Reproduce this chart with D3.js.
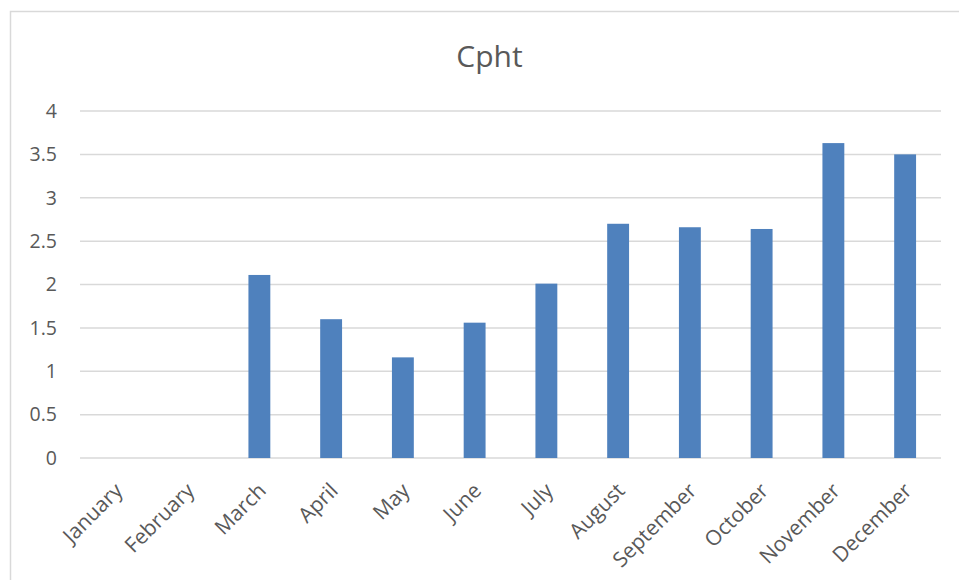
<!DOCTYPE html>
<html>
<head>
<meta charset="utf-8">
<script src="https://cdn.jsdelivr.net/npm/d3@7"></script>
<style>
  html, body { margin: 0; padding: 0; background: #ffffff; }
  svg { display: block; }
</style>
</head>
<body>
<svg id="chart" width="959" height="580"></svg>
<script>
const title = "Cpht";
const months = ["January","February","March","April","May","June","July","August","September","October","November","December"];
const values = [null, null, 2.11, 1.60, 1.16, 1.56, 2.01, 2.70, 2.66, 2.64, 3.63, 3.50];
const yTicks = [0, 0.5, 1, 1.5, 2, 2.5, 3, 3.5, 4];

const W = 959, H = 580;
const margin = { left: 80, right: 18, top: 111, bottom: 122 };
const font = "'Open Sans', sans-serif";
const textColor = "#595959";
const gridColor = "#d9d9d9";
const barColor = "#4f81bd";

const svg = d3.select("#chart");

// outer chart border
svg.append("rect")
  .attr("x", 10.5).attr("y", 11.5)
  .attr("width", W).attr("height", H)
  .attr("fill", "#fff").attr("stroke", gridColor).attr("stroke-width", 1.5);

const x = d3.scaleBand()
  .domain(months)
  .range([margin.left, W - margin.right])
  .paddingInner(0.695).paddingOuter(0.3475);

const y = d3.scaleLinear()
  .domain([0, 4])
  .range([H - margin.bottom, margin.top]);

// gridlines
svg.append("g")
  .selectAll("line")
  .data(yTicks)
  .join("line")
  .attr("x1", margin.left).attr("x2", W - margin.right)
  .attr("y1", d => y(d)).attr("y2", d => y(d))
  .attr("stroke", gridColor).attr("stroke-width", 1.5);

// y axis labels
const yAxis = d3.axisLeft(y).tickValues(yTicks).tickSize(0).tickPadding(0).tickFormat(d3.format("~g"));
const gy = svg.append("g").attr("transform", `translate(${margin.left - 23},0)`).call(yAxis);
gy.select(".domain").remove();
gy.selectAll("text").attr("font-family", font).attr("font-size", 19.5).attr("fill", textColor);

// bars
svg.append("g")
  .selectAll("rect")
  .data(months.map((m, i) => ({ m, v: values[i] })).filter(d => d.v != null))
  .join("rect")
  .attr("x", d => x(d.m))
  .attr("width", x.bandwidth())
  .attr("y", d => y(d.v))
  .attr("height", d => y(0) - y(d.v))
  .attr("fill", barColor);

// x axis labels
const xAxis = d3.axisBottom(x).tickSize(0).tickPadding(0);
const gx = svg.append("g").attr("transform", `translate(0,${y(0)})`).call(xAxis);
gx.select(".domain").remove();
gx.selectAll("text")
  .attr("font-family", font).attr("font-size", 21).attr("fill", textColor)
  .attr("text-anchor", "end")
  .attr("dy", null).attr("y", null)
  .attr("transform", "translate(8,34) rotate(-45)");

// title
svg.append("text")
  .attr("x", 489.5)
  .attr("y", 67)
  .attr("text-anchor", "middle")
  .attr("font-family", font).attr("font-size", 30)
  .attr("fill", textColor)
  .text(title);
</script>
</body>
</html>
